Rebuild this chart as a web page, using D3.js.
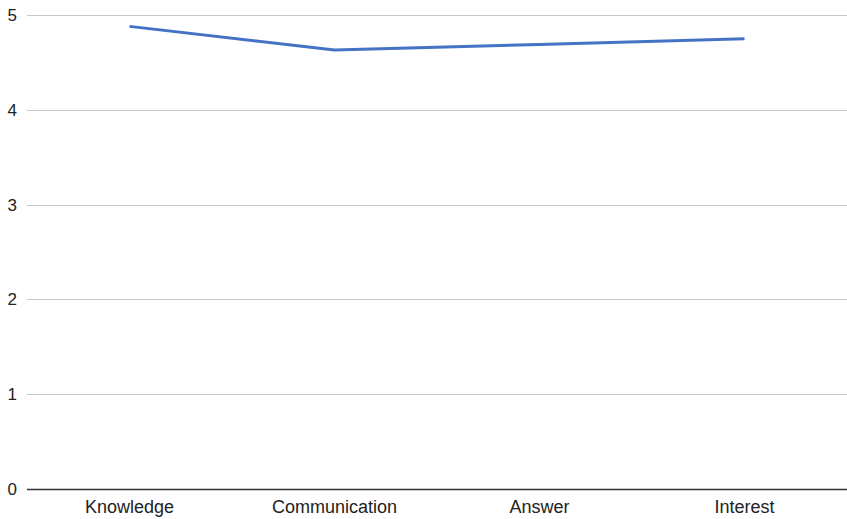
<!DOCTYPE html>
<html>
<head>
<meta charset="utf-8">
<script src="https://cdn.jsdelivr.net/npm/d3@7"></script>
<style>
  body { margin: 0; background: #fff; }
  svg { display: block; font-family: "Liberation Sans", Arial, sans-serif; }
</style>
</head>
<body>
<div id="chart"></div>
<script>
// data
var categories = ["Knowledge", "Communication", "Answer", "Interest"];
var scores = [4.88, 4.63, 4.69, 4.75];
var yTicks = [0, 1, 2, 3, 4, 5];

var width = 847,
  height = 519;
var margin = { top: 15, right: 0, bottom: 30, left: 27 };

var svg = d3.select("#chart")
  .append("svg")
  .attr("width", width)
  .attr("height", height);

var x = d3.scaleBand()
  .domain(categories)
  .range([margin.left, width - margin.right]);

var y = d3.scaleLinear()
  .domain([0, 5])
  .range([height - margin.bottom, margin.top]);

// gridlines
svg.append("g")
  .selectAll("line")
  .data(yTicks.filter(function(d) { return d > 0; }))
  .enter()
  .append("line")
  .attr("x1", margin.left)
  .attr("x2", width - margin.right)
  .attr("y1", function(d) { return Math.round(y(d)) + 0.5; })
  .attr("y2", function(d) { return Math.round(y(d)) + 0.5; })
  .style("stroke", "#c8c8c8")
  .style("stroke-width", 1);

// y labels
svg.append("g")
  .selectAll("text")
  .data(yTicks)
  .enter()
  .append("text")
  .attr("x", 17)
  .attr("y", function(d) { return y(d); })
  .attr("dy", "0.35em")
  .attr("text-anchor", "end")
  .style("font-size", "17px")
  .style("fill", "#222")
  .text(function(d) { return d; });

// baseline
svg.append("line")
  .attr("x1", margin.left)
  .attr("x2", width - margin.right)
  .attr("y1", Math.round(y(0)) + 0.5)
  .attr("y2", Math.round(y(0)) + 0.5)
  .style("stroke", "#333")
  .style("stroke-width", 1.3);

// x labels
svg.append("g")
  .selectAll("text")
  .data(categories)
  .enter()
  .append("text")
  .attr("x", function(d) { return x(d) + x.bandwidth() / 2; })
  .attr("y", y(0) + 24)
  .attr("text-anchor", "middle")
  .style("font-size", "18px")
  .style("fill", "#222")
  .text(function(d) { return d; });

// line
var line = d3.line()
  .x(function(d, i) { return x(categories[i]) + x.bandwidth() / 2; })
  .y(function(d) { return y(d); });

svg.append("path")
  .datum(scores)
  .attr("d", line)
  .style("fill", "none")
  .style("stroke", "#4472c4")
  .style("stroke-width", 3)
  .style("stroke-linejoin", "round");
</script>
</body>
</html>
